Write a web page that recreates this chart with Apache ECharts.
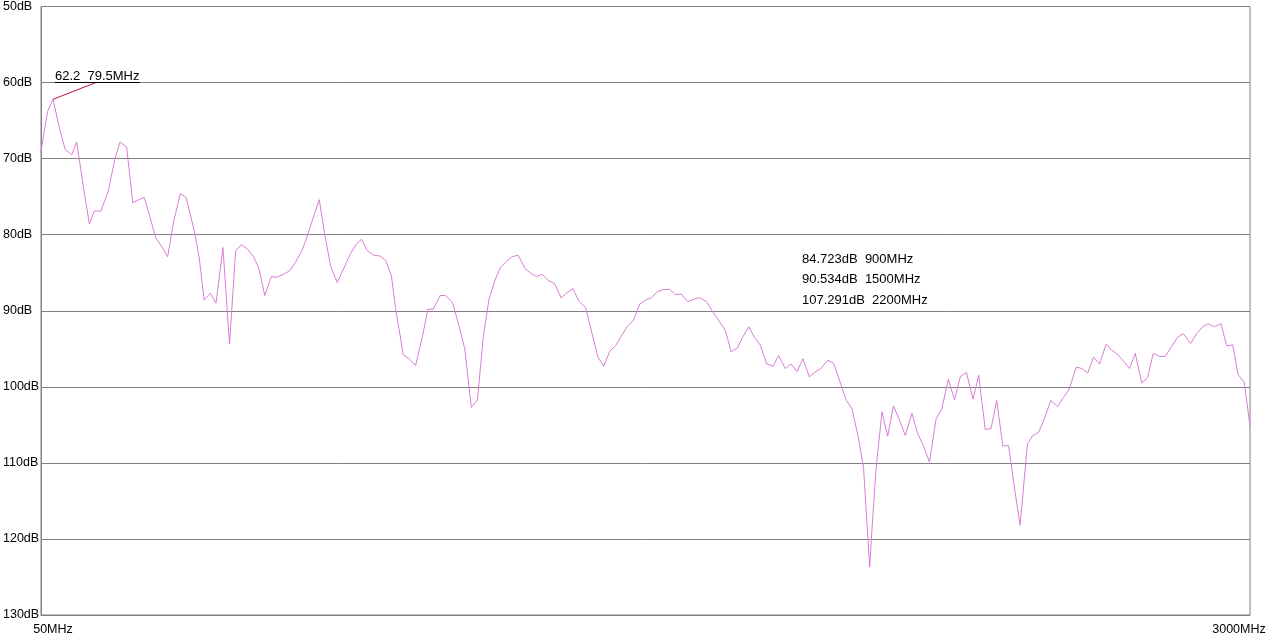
<!DOCTYPE html>
<html>
<head>
<meta charset="utf-8">
<script src="https://cdn.jsdelivr.net/npm/echarts@6/dist/echarts.min.js"></script>
<style>
html,body{margin:0;padding:0;background:#fff;}
#chart{width:1280px;height:640px;}
</style>
</head>
<body>
<div id="chart"></div>
<script>
// Frequency (MHz) of each sample
const freqMHz = [
  50,66,79.5,95,109,125,137,152,168,180,
  196,214,230,243,259,274,288,302,316,330,
  345,359,374,390,404,424,436,448,463,477,
  494,510,525,539,554,569,582,596,612,625,
  642,658,672,686,699,714,729,742,757,773,
  789,806,820,832,846,861,877,891,905,915,
  934,948,964,981,994,1007,1024,1037,1054,1070,
  1084,1100,1115,1129,1143,1157,1171,1186,1200,1214,
  1232,1246,1259,1273,1287,1303,1319,1334,1348,1362,
  1379,1395,1409,1423,1438,1452,1466,1480,1496,1511,
  1525,1539,1554,1568,1584,1598,1612,1628,1643,1657,
  1674,1690,1704,1720,1734,1749,1763,1777,1791,1805,
  1821,1836,1850,1866,1880,1895,1909,1925,1940,1953,
  1970,1984,2000,2015,2029,2044,2057,2067,2072,2078,
  2088,2102,2116,2130,2145,2159,2175,2189,2204,2218,
  2234,2248,2264,2279,2293,2308,2324,2338,2354,2368,
  2382,2397,2411,2425,2439,2457,2470,2484,2496,2514,
  2530,2545,2559,2576,2590,2604,2618,2633,2649,2663,
  2676,2691,2706,2720,2736,2750,2764,2779,2793,2809,
  2823,2837,2855,2870,2885,2898,2913,2929,2943,2958,
  2971,2986,3000
];
// Level (dB) of each sample
const levelDb = [
  69.0,63.8,62.2,66.0,68.8,69.5,67.8,73.2,78.6,76.9,
  76.9,74.3,70.1,67.8,68.5,75.8,75.4,75.1,77.7,80.4,
  81.6,82.9,78.2,74.6,75.1,79.5,83.0,88.6,87.7,89.0,
  81.7,94.4,82.1,81.3,81.9,82.9,84.5,88.0,85.5,85.6,
  85.2,84.7,83.5,82.2,80.3,77.8,75.4,79.9,84.2,86.3,
  84.4,82.4,81.2,80.6,82.1,82.7,82.8,83.4,85.4,89.6,
  95.8,96.3,97.2,93.3,89.8,89.8,88.0,88.0,88.9,92.0,
  95.0,102.7,101.7,93.5,88.5,86.1,84.3,83.5,82.9,82.7,
  84.5,85.1,85.5,85.2,86.0,86.4,88.3,87.6,87.1,88.7,
  89.6,93.1,96.1,97.3,95.3,94.6,93.3,92.1,91.2,89.1,
  88.6,88.3,87.5,87.2,87.2,87.9,87.8,88.8,88.5,88.3,
  88.8,90.2,91.3,92.6,95.4,94.9,93.4,92.1,93.5,94.5,
  97.0,97.3,95.9,97.6,97.0,98.0,96.3,98.7,98.0,97.6,
  96.5,96.9,99.4,101.8,102.9,106.6,110.6,119.3,123.7,118.4,
  110.5,103.3,106.5,102.5,104.4,106.4,103.5,106.1,107.9,109.9,
  104.2,102.9,99.0,101.7,98.7,98.1,101.6,98.5,105.6,105.5,
  101.8,107.8,107.7,113.2,118.2,107.5,106.4,106.0,104.5,101.8,
  102.6,101.4,100.3,97.4,97.6,98.2,96.1,97.0,94.4,95.2,
  95.7,96.6,97.6,95.6,99.5,98.8,95.6,96.0,96.0,94.7,
  93.5,93.0,94.3,93.0,92.1,91.7,92.1,91.7,94.6,94.5,
  98.4,99.4,105.2
];
// Axis tick values
const yTicks = [50,60,70,80,90,100,110,120,130];
const xTickLabels = [50, 3000];
// Peak marker
const peakDb = 62.2;
const peakMHz = 79.5;
const peakLabelEnd = [184, 60];
const peakUnderline = [84, 291];
// Reference readouts
const readDb = ['84.723', '90.534', '107.291'];
const readMHz = ['900', '1500', '2200'];

const data = freqMHz.map((f, i) => [f, levelDb[i]]);
const FONT = 'Liberation Sans';
const AX = 12.5;

const chart = echarts.init(document.getElementById('chart'), null, {renderer: 'canvas'});
chart.setOption({
  animation: false,
  backgroundColor: '#fff',
  grid: {left: 40, right: 30, top: 5, bottom: 25, show: true, borderColor: '#808080', borderWidth: 1},
  xAxis: {
    type: 'value', min: xTickLabels[0], max: xTickLabels[1],
    axisLine: {show: true, lineStyle: {color: '#808080', width: 1}},
    axisTick: {show: false},
    splitLine: {show: false},
    axisLabel: {
      customValues: xTickLabels,
      margin: 8,
      color: '#000', fontFamily: FONT, fontSize: AX,
      formatter: v => (v === xTickLabels[0] ? '{l|' + v + 'MHz}' : '{r|' + v + 'MHz}'),
      rich: {
        l: {padding: [0, 0, 0, 24], color: '#000', fontFamily: FONT, fontSize: AX},
        r: {padding: [0, 22, 0, 0], color: '#000', fontFamily: FONT, fontSize: AX}
      }
    }
  },
  yAxis: {
    type: 'value', inverse: true, min: yTicks[0], max: yTicks[yTicks.length - 1], interval: 10,
    axisLine: {show: true, lineStyle: {color: '#808080', width: 1}},
    axisTick: {show: false},
    splitLine: {show: true, lineStyle: {color: '#808080', width: 1}},
    axisLabel: {
      formatter: '{value}dB', align: 'left', margin: 38, verticalAlign: 'middle',
      padding: [12, 0, 0, 0],
      color: '#000', fontFamily: FONT, fontSize: AX
    }
  },
  series: [{
    type: 'line',
    data: data,
    showSymbol: false,
    symbol: 'none',
    lineStyle: {color: '#d87ed8', width: 1},
    silent: true,
    markLine: {
      silent: true,
      symbol: ['none', 'none'],
      animation: false,
      data: [
        [{coord: [peakMHz, peakDb], lineStyle: {color: '#b4143c', width: 1, type: 'solid'}, label: {show: false}},
         {coord: peakLabelEnd}],
        [{coord: [peakUnderline[0], peakLabelEnd[1]], lineStyle: {color: '#000', width: 1, type: 'solid'},
          label: {show: true, position: 'insideStartTop', distance: [0, 0], formatter: peakDb + '  ' + peakMHz + 'MHz',
                  color: '#000', fontFamily: FONT, fontSize: 13}},
         {coord: [peakUnderline[1], peakLabelEnd[1]]}]
      ]
    }
  }],
  graphic: [{
    type: 'text', left: 802, top: 249, silent: true,
    style: {
      text: readDb.map((d, i) => d + 'dB  ' + readMHz[i] + 'MHz').join('\n'),
      fill: '#000', font: '13px "Liberation Sans"', lineHeight: 20.5
    }
  }]
});
</script>
</body>
</html>
